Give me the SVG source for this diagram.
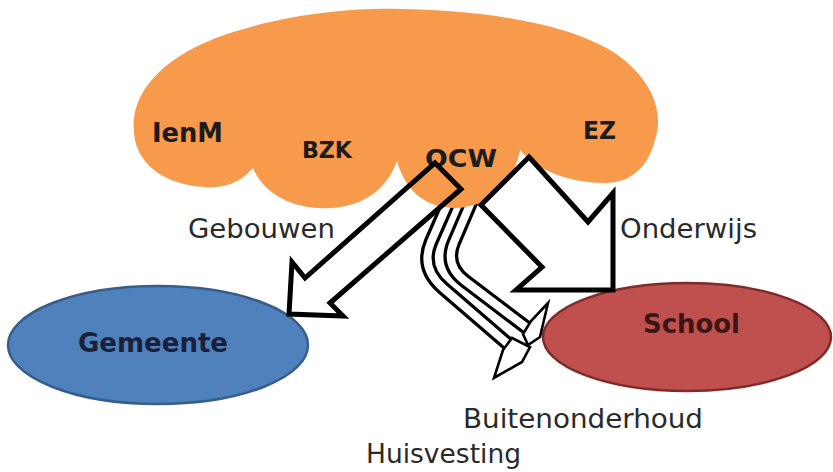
<svg xmlns="http://www.w3.org/2000/svg" xmlns:xlink="http://www.w3.org/1999/xlink" width="833" height="472" viewBox="0 0 833 472">
<style>
  .bold { font-family: "DejaVu Sans", "Liberation Sans", sans-serif; font-weight: bold; fill: #1c1c1c; }
  .lbl { font-family: "DejaVu Sans", "Liberation Sans", sans-serif; font-size: 26px; fill: #2a2a2a; }
  .blk { fill: none; stroke: #000; stroke-linejoin: miter; }
  .band-o { fill: none; stroke: #000; stroke-width: 14.5; stroke-linecap: butt; stroke-linejoin: round; }
  .band-i { fill: none; stroke: #fff; stroke-width: 8; stroke-linecap: butt; stroke-linejoin: round; }
  .head { fill: #fff; stroke: #000; stroke-width: 2.6; stroke-linejoin: miter; }
</style>
<defs>
  <path id="cloudShape" d="M 135,140 C 125,90 170,50 240,30 C 300,12 360,8 400,9 C 470,10 560,20 610,50 C 650,75 665,110 655,140 C 648,168 630,183 605,183 C 572,183 538,172 520,150 C 515,180 490,208 455,208 C 425,208 405,190 397,161 C 385,195 355,210 318,208 C 285,206 262,190 253,168 C 238,185 222,188 205,187 C 165,185 140,165 135,140 Z"/>
  <mask id="bandMask" maskUnits="userSpaceOnUse" x="0" y="0" width="833" height="472">
    <rect x="0" y="0" width="833" height="472" fill="#fff"/>
    <use xlink:href="#cloudShape" fill="#000"/>
    <polygon points="470,100 470,181 320,312 0,312 0,100" fill="#000"/>
  </mask>
</defs>
<rect x="0" y="0" width="833" height="472" fill="#fff"/>

<g id="gemeente">
  <ellipse cx="158" cy="345" rx="150" ry="59" fill="#4F81BD" stroke="#385D8A" stroke-width="2.5"/>
  <text class="bold" x="78" y="352" font-size="26" textLength="150" lengthAdjust="spacingAndGlyphs" style="fill:#1a1f3a">Gemeente</text>
</g>

<g id="school">
  <ellipse cx="687" cy="337" rx="144" ry="54" fill="#C0504D" stroke="#7E2B29" stroke-width="2.5"/>
  <text class="bold" x="643" y="333" font-size="26" textLength="97" lengthAdjust="spacingAndGlyphs" style="fill:#3a1616">School</text>
</g>

<g id="ministeries">
  <use xlink:href="#cloudShape" fill="#F79A4B"/>
  <text class="bold" x="152" y="142" font-size="26" textLength="71" lengthAdjust="spacingAndGlyphs">IenM</text>
  <text class="bold" x="302" y="158" font-size="23" textLength="50" lengthAdjust="spacingAndGlyphs">BZK</text>
  <text class="bold" x="425" y="167" font-size="25" textLength="72" lengthAdjust="spacingAndGlyphs">OCW</text>
  <text class="bold" x="583" y="139" font-size="24" textLength="33" lengthAdjust="spacingAndGlyphs">EZ</text>
</g>

<g id="connectors">
  <g mask="url(#bandMask)">
    <path class="band-o" d="M 456,185 L 431,242 Q 420,268 443,288 L 508,344"/>
    <path class="band-i" d="M 456,185 L 431,242 Q 420,268 443,288 L 508,344"/>
    <path class="band-o" d="M 478,186 L 454,242 Q 444,265 465,281 L 527,328"/>
    <path class="band-i" d="M 478,186 L 454,242 Q 444,265 465,281 L 527,328"/>
  </g>
  <polygon class="head" points="503,350 494,378 522,362 530,347 512,338"/>
  <polygon class="head" points="523,334 531,321 548,303 540,337 528,345"/>
  <polygon id="arrow-gebouwen" class="blk" stroke-width="5" points="435,163 461,189 330,303 343,316 289,314 292,262 305,278"/>
  <polygon id="arrow-onderwijs" fill="#fff" stroke="#000" stroke-width="5" stroke-linejoin="miter" points="529,157 588,222 613,193 613,290 516,290 542,267 481,205"/>
</g>

<g id="labels">
  <text class="lbl" x="188" y="238" font-size="27" textLength="147" lengthAdjust="spacingAndGlyphs">Gebouwen</text>
  <text class="lbl" x="620" y="238" font-size="27" textLength="137" lengthAdjust="spacingAndGlyphs">Onderwijs</text>
  <text class="lbl" x="463" y="428" font-size="27" textLength="240" lengthAdjust="spacingAndGlyphs">Buitenonderhoud</text>
  <text class="lbl" x="366" y="463" font-size="27" textLength="155" lengthAdjust="spacingAndGlyphs">Huisvesting</text>
</g>
</svg>
